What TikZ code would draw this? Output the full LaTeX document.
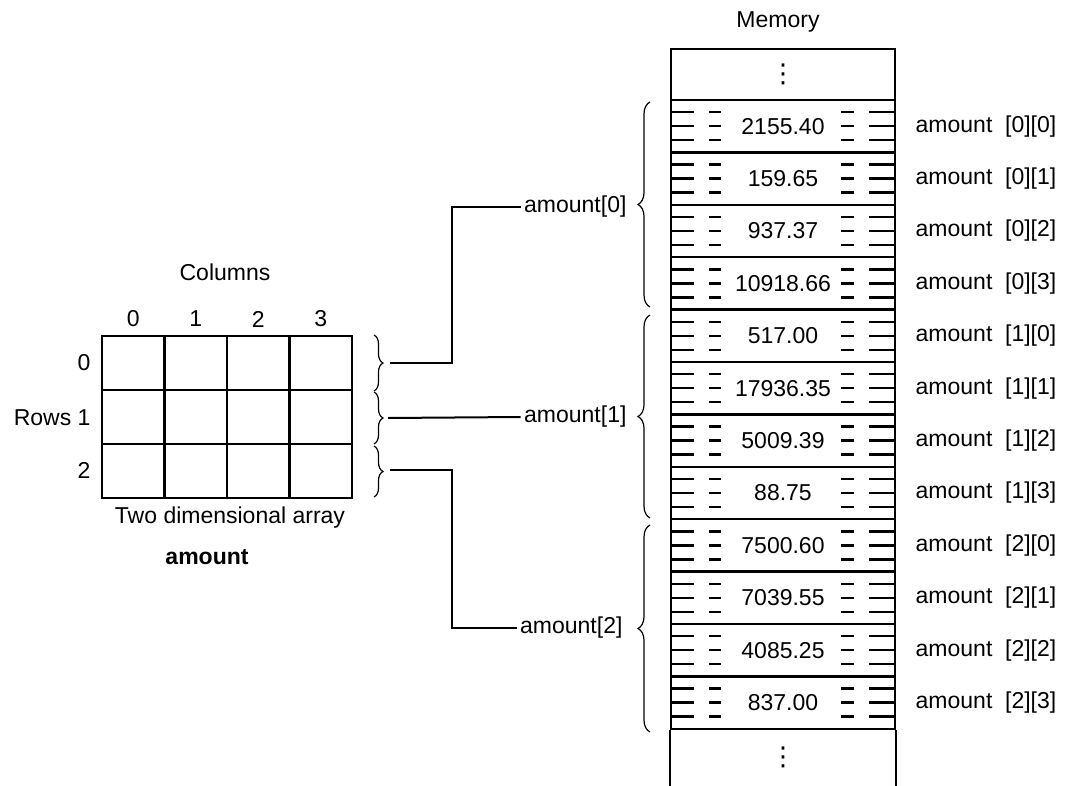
\documentclass[tikz,border=0pt]{standalone}
\usepackage{fontspec}
\setmainfont{Liberation Sans}
\newfontfamily\dotsfont{DejaVu Sans}
\usetikzlibrary{positioning, decorations.pathreplacing}

\tikzset{
    arr cell/.style={draw, line width=2.2pt, minimum width=62.5pt,
                     minimum height=54pt, inner sep=0pt},
    mem cell/.style={draw, line width=2.3pt, minimum width=224pt,
                     minimum height=52.4pt, inner sep=0pt},
    mem dash/.style={line width=2.3pt},
    mem dots/.style={font=\dotsfont\fontsize{26}{28}\selectfont},
    mem label/.style={right=16pt of #1},
    row brace/.style={decorate, decoration={brace, amplitude=9pt},
                      line width=1.2pt},
    group brace/.style={decorate, decoration={brace, amplitude=12pt},
                        line width=1.2pt},
    link/.style={line width=2pt},
}
% three rows of short dashes on both sides of a memory cell
\newcommand{\celldashes}[1]{%
    \draw[mem dash] ([yshift=14pt]#1.west) -- ++(24,0) ++(15,0) -- ++(12,0)
                    ([yshift=14pt]#1.east) -- ++(-27,0) ++(-15,0) -- ++(-13,0);
    \draw[mem dash] (#1.west) -- ++(24,0) ++(15,0) -- ++(12,0)
                    (#1.east) -- ++(-27,0) ++(-15,0) -- ++(-13,0);
    \draw[mem dash] ([yshift=-14pt]#1.west) -- ++(24,0) ++(15,0) -- ++(12,0)
                    ([yshift=-14pt]#1.east) -- ++(-27,0) ++(-15,0) -- ++(-13,0);
}

\begin{document}
\begin{tikzpicture}[x=1pt, y=-1pt, font=\fontsize{23}{27}\selectfont]
    \useasboundingbox (0,0) rectangle (1067,786);

    % Two dimensional array
    \node[arr cell] (g00) at (133.25, 363) {};
    \node[arr cell] (g01) at (195.75, 363) {};
    \node[arr cell] (g02) at (258.25, 363) {};
    \node[arr cell] (g03) at (320.75, 363) {};
    \node[arr cell] (g10) at (133.25, 417) {};
    \node[arr cell] (g11) at (195.75, 417) {};
    \node[arr cell] (g12) at (258.25, 417) {};
    \node[arr cell] (g13) at (320.75, 417) {};
    \node[arr cell] (g20) at (133.25, 471) {};
    \node[arr cell] (g21) at (195.75, 471) {};
    \node[arr cell] (g22) at (258.25, 471) {};
    \node[arr cell] (g23) at (320.75, 471) {};
    % Column and row numbers
    \node (cols) at (225, 272) {Columns};
    \node (k0) at (133.25, 319) {0};
    \node (k1) at (195.75, 319) {1};
    \node (k2) at (258.25, 319) {2};
    \node (k3) at (320.75, 319) {3};
    \node[anchor=east] (j0) at (94, 363) {0};
    \node[anchor=east] (j1) at (94, 418) {Rows 1};
    \node[anchor=east] (j2) at (94, 470) {2};
    \node (arrname) at (230, 518) {Two dimensional array};
    \node[font=\fontsize{23}{27}\selectfont\bfseries] (arrbold) at (207, 557) {amount};

    % Braces on the rows
    \draw[row brace] (374, 335) -- (374, 391);
    \draw[row brace] (374, 392) -- (374, 444);
    \draw[row brace] (374, 446) -- (374, 497);
    \coordinate (r0) at (390, 363);
    \coordinate (r1) at (388, 418);
    \coordinate (r2) at (390, 470);

    % Memory
    \node (memtitle) at (778, 22) {Memory};
    \node[mem cell, minimum height=51pt] (mtop) at (783, 74.5) {};
    \node[mem dots] (tdots) at (mtop) {⋮};
    \node[mem cell] (m00) at (783, 126.2) {2155.40};
    \node[mem cell] (m01) at (783, 178.6) {159.65};
    \node[mem cell] (m02) at (783, 231.0) {937.37};
    \node[mem cell] (m03) at (783, 283.4) {10918.66};
    \node[mem cell] (m10) at (783, 335.8) {517.00};
    \node[mem cell] (m11) at (783, 388.2) {17936.35};
    \node[mem cell] (m12) at (783, 440.6) {5009.39};
    \node[mem cell] (m13) at (783, 493.0) {88.75};
    \node[mem cell] (m20) at (783, 545.4) {7500.60};
    \node[mem cell] (m21) at (783, 597.8) {7039.55};
    \node[mem cell] (m22) at (783, 650.2) {4085.25};
    \node[mem cell] (m23) at (783, 702.6) {837.00};
    \draw[line width=2.3pt] (m23.south west) -- ++(0, 60)
                            (m23.south east) -- ++(0, 60);
    \node[mem dots] (bdots) at (783, 757) {⋮};
    \celldashes{m00} \celldashes{m01} \celldashes{m02} \celldashes{m03}
    \celldashes{m10} \celldashes{m11} \celldashes{m12} \celldashes{m13}
    \celldashes{m20} \celldashes{m21} \celldashes{m22} \celldashes{m23}

    % Element names
    \node[mem label=m00] (n00) {amount\ \ [0][0]};
    \node[mem label=m01] (n01) {amount\ \ [0][1]};
    \node[mem label=m02] (n02) {amount\ \ [0][2]};
    \node[mem label=m03] (n03) {amount\ \ [0][3]};
    \node[mem label=m10] (n10) {amount\ \ [1][0]};
    \node[mem label=m11] (n11) {amount\ \ [1][1]};
    \node[mem label=m12] (n12) {amount\ \ [1][2]};
    \node[mem label=m13] (n13) {amount\ \ [1][3]};
    \node[mem label=m20] (n20) {amount\ \ [2][0]};
    \node[mem label=m21] (n21) {amount\ \ [2][1]};
    \node[mem label=m22] (n22) {amount\ \ [2][2]};
    \node[mem label=m23] (n23) {amount\ \ [2][3]};

    % Braces on the memory rows
    \draw[group brace] (650, 307) -- (650, 102);
    \draw[group brace] (650, 518) -- (650, 315);
    \draw[group brace] (650, 732) -- (650, 525);
    \node[anchor=east] (l0) at (630, 207) {amount[0]};
    \node[anchor=east] (l1) at (630, 417) {amount[1]};
    \node[anchor=east] (l2) at (626, 628) {amount[2]};

    % Row links
    \draw[link] (r0) -- ++(62, 0) |- (l0.west);
    \draw[link] (r1) -- (l1.west);
    \draw[link] (r2) -- ++(62, 0) |- (l2.west);
\end{tikzpicture}
\end{document}
